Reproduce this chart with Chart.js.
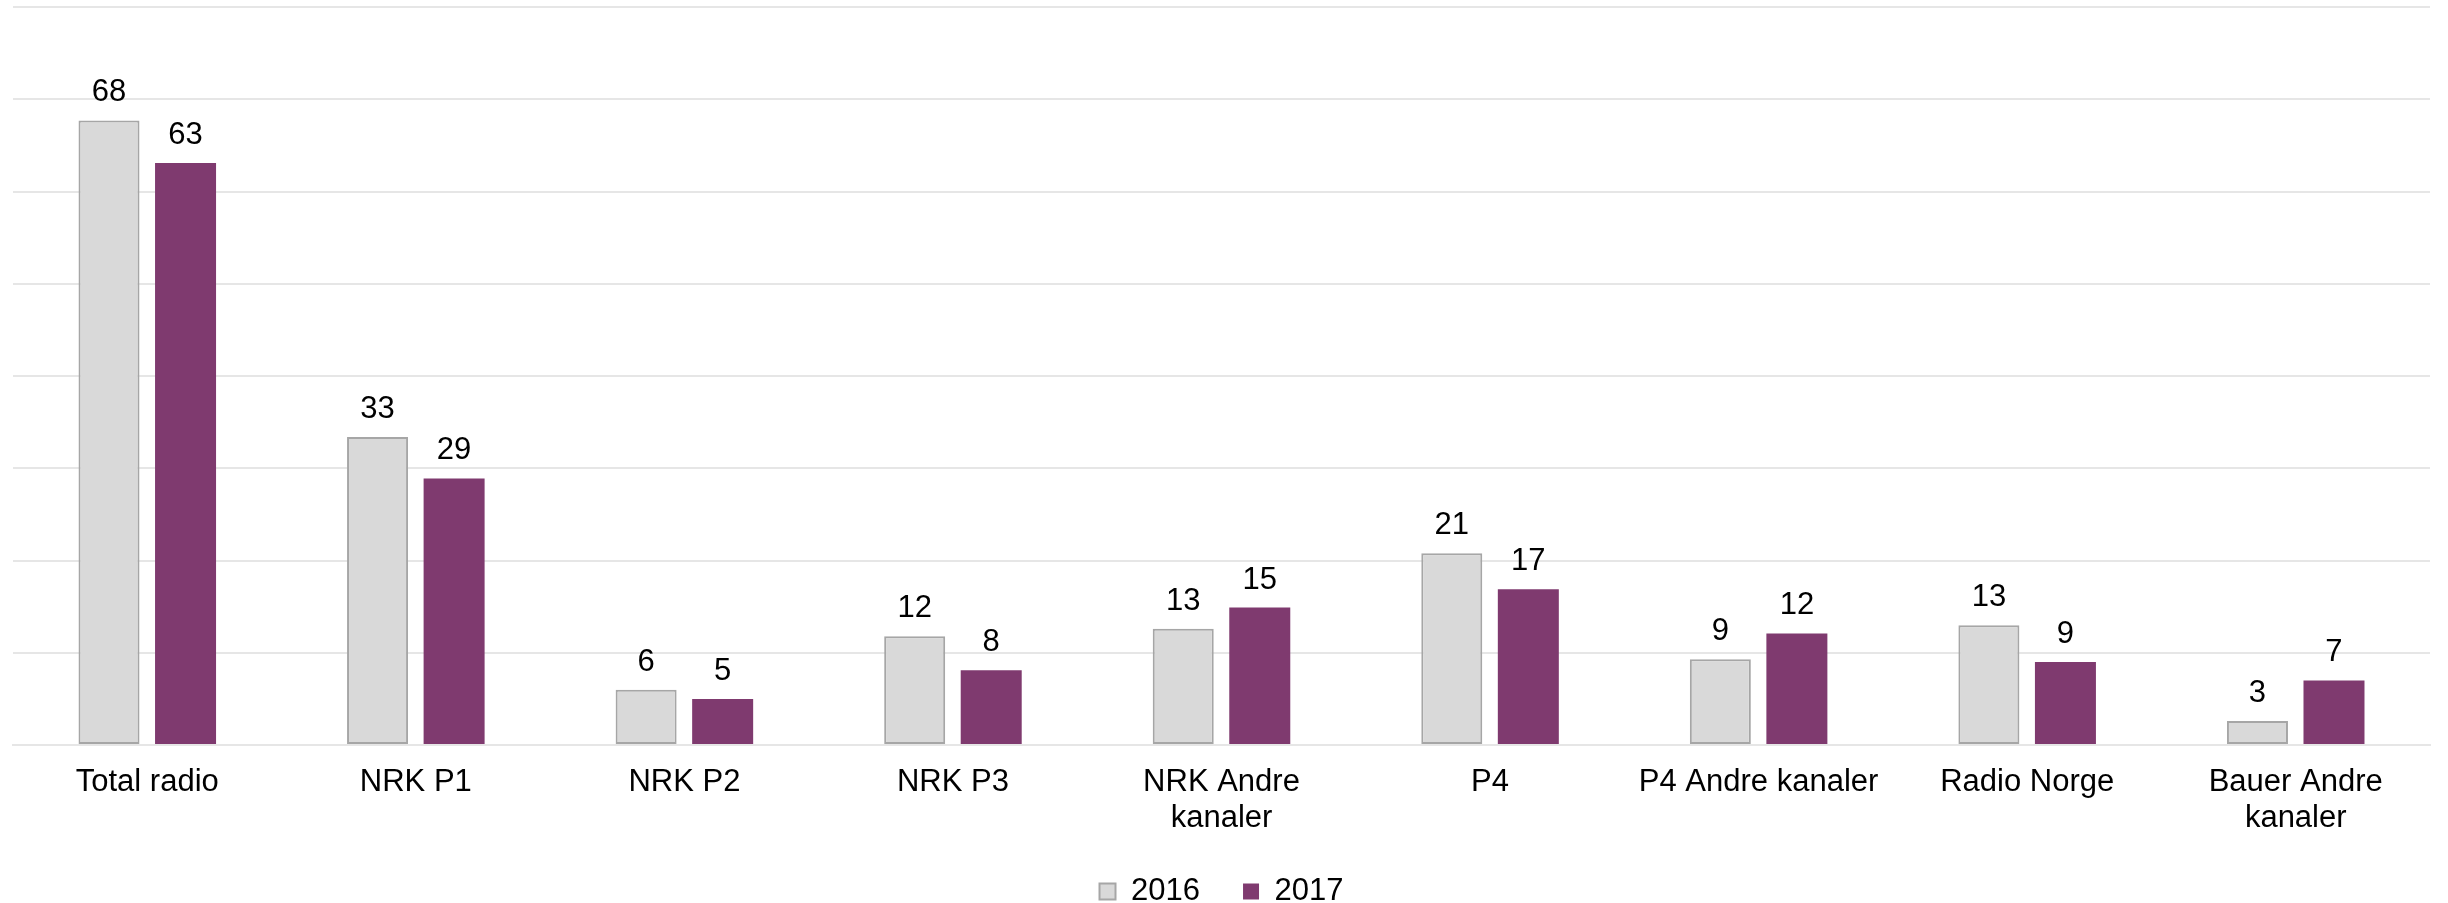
<!DOCTYPE html>
<html>
<head>
<meta charset="utf-8">
<script src="https://cdn.jsdelivr.net/npm/chart.js@4/dist/chart.umd.min.js"></script>
<style>
html,body{margin:0;padding:0;background:#fff;}
canvas{display:block;}
</style>
</head>
<body>
<canvas id="c" width="2448" height="903"></canvas>
<script>
const categories = [
  "Total radio", "NRK P1", "NRK P2", "NRK P3", ["NRK Andre", "kanaler"],
  "P4", "P4 Andre kanaler", "Radio Norge", ["Bauer Andre", "kanaler"]
];
const seriesNames = ["2016", "2017"];
const values2016 = [67.7, 33.4, 6.0, 11.8, 12.6, 20.8, 9.3, 13.0, 2.6];
const values2017 = [63.1, 28.9, 5.0, 8.1, 14.9, 16.9, 12.1, 9.0, 7.0];
const yMin = 0, yMax = 80, yStep = 10;

const FONT = "'Liberation Sans', Arial, Helvetica, sans-serif";

const valueLabels = {
  id: 'valueLabels',
  afterDatasetsDraw(chart) {
    const ctx = chart.ctx;
    ctx.save();
    ctx.font = "31px " + FONT;
    ctx.fillStyle = "#000";
    ctx.textAlign = "center";
    ctx.textBaseline = "alphabetic";
    chart.data.datasets.forEach((ds, i) => {
      const meta = chart.getDatasetMeta(i);
      meta.data.forEach((bar, j) => {
        ctx.fillText(String(Math.round(ds.data[j])), bar.x, bar.y - 19);
      });
    });
    ctx.restore();
  }
};

new Chart(document.getElementById('c'), {
  type: 'bar',
  data: {
    labels: categories,
    datasets: [
      {
        label: seriesNames[0],
        data: values2016,
        backgroundColor: '#D9D9D9',
        borderColor: '#A6A6A6',
        borderWidth: 2,
        borderSkipped: false,
        barPercentage: 0.797,
        categoryPercentage: 0.57
      },
      {
        label: seriesNames[1],
        data: values2017,
        backgroundColor: '#7F3A6F',
        borderColor: '#7F3A6F',
        borderWidth: 0,
        barPercentage: 0.797,
        categoryPercentage: 0.57
      }
    ]
  },
  options: {
    responsive: false,
    devicePixelRatio: 1,
    animation: false,
    layout: { padding: { left: 13, right: 18, top: 7, bottom: -14 } },
    scales: {
      x: {
        grid: { display: false, drawTicks: false },
        border: { display: true, color: '#E6E6E6', width: 2 },
        ticks: {
          font: { family: FONT, size: 31, lineHeight: 1.16 },
          color: '#000',
          padding: 19,
          maxRotation: 0,
          autoSkip: false
        },
        title: {
          display: true,
          text: ' ',
          font: { family: FONT, size: 10, lineHeight: 1 },
          padding: { top: 11, bottom: 0 }
        }
      },
      y: {
        min: yMin,
        max: yMax,
        ticks: { display: false, stepSize: yStep },
        grid: { color: '#E6E6E6', lineWidth: 2, drawTicks: false },
        border: { display: false }
      }
    },
    plugins: {
      legend: {
        position: 'bottom',
        labels: {
          font: { family: FONT, size: 31 },
          color: '#000',
          boxWidth: 16,
          boxHeight: 16,
          padding: 0,
          generateLabels(chart) {
            const items = Chart.defaults.plugins.legend.labels.generateLabels(chart);
            items.forEach((it, k) => {
              if (k < items.length - 1) it.text = it.text + '     ';
            });
            return items;
          }
        }
      },
      tooltip: { enabled: false }
    }
  },
  plugins: [valueLabels]
});
</script>
</body>
</html>
